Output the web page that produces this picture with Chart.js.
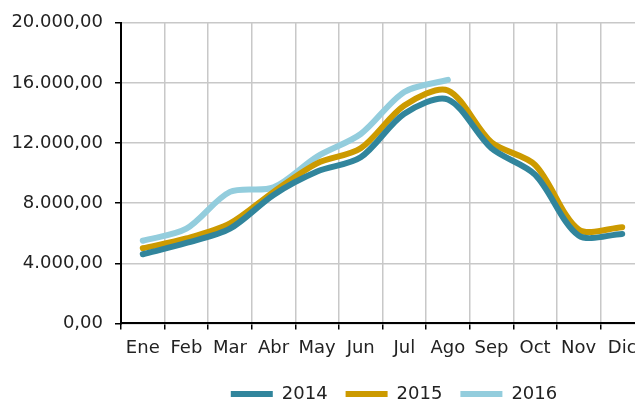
<!DOCTYPE html>
<html>
<head>
<meta charset="utf-8">
<script src="https://cdn.jsdelivr.net/npm/chart.js@4/dist/chart.umd.min.js"></script>
<style>
  html, body { margin: 0; padding: 0; background: #fff; overflow: hidden; }
  #wrap { position: absolute; left: 0; top: 0; width: 652px; height: 413px; }
</style>
</head>
<body>
<div id="wrap"><canvas id="myChart"></canvas></div>
<script>
const months = ['Ene', 'Feb', 'Mar', 'Abr', 'May', 'Jun', 'Jul', 'Ago', 'Sep', 'Oct', 'Nov', 'Dic']
const years = ['2014', '2015', '2016']
const values2014 = [4600, 5350, 6300, 8550, 10100, 11050, 13950, 14900, 11650, 9900, 5850, 5950]
const values2015 = [5000, 5650, 6650, 8750, 10650, 11650, 14500, 15500, 12050, 10550, 6250, 6400]
const values2016 = [5500, 6300, 8750, 9050, 11100, 12600, 15400, 16200]
const yTicks = [0, 4000, 8000, 12000, 16000, 20000]
const yTickLabels = ['0,00', '4.000,00', '8.000,00', '12.000,00', '16.000,00', '20.000,00']

const colors = ['#31859c', '#cc9a00', '#93cddd']
const font = { family: 'DejaVu Sans', size: 18 }

// legend is not centred on the canvas in the original, push it right
const legendShift = {
  id: 'legendShift',
  afterLayout(chart) {
    chart.legend.left += 72
    chart.legend.right += 72
  }
}

function makeSet(label, data, i) {
  return {
    label: label,
    data: data,
    borderColor: colors[i],
    backgroundColor: colors[i],
    borderWidth: 6,
    borderCapStyle: 'round',
    borderJoinStyle: 'round',
    pointRadius: 0,
    pointHoverRadius: 0,
    tension: 0.3,
    fill: false,
    pointStyle: 'line'
  }
}

let ctx = document.getElementById('myChart').getContext('2d')
let chart = new Chart(ctx, {
  type: 'line',
  data: {
    labels: months,
    datasets: [
      makeSet(years[0], values2014, 0),
      makeSet(years[1], values2015, 1),
      makeSet(years[2], values2016, 2)
    ]
  },
  options: {
    responsive: true,
    maintainAspectRatio: false,
    animation: false,
    layout: { padding: { top: 21, right: 8, left: 0, bottom: 0 } },
    plugins: {
      tooltip: { enabled: false },
      legend: {
        position: 'bottom',
        labels: {
          usePointStyle: true,
          pointStyleWidth: 42,
          padding: 18,
          color: '#222',
          font: font
        }
      }
    },
    scales: {
      x: {
        offset: true,
        grid: { offset: true, color: '#c8c8c8', lineWidth: 1.5, tickColor: '#000', tickLength: 6 },
        border: { color: '#000', width: 2 },
        ticks: { color: '#222', font: font, padding: 8, maxRotation: 0, autoSkip: false }
      },
      y: {
        min: 0,
        max: 20000,
        afterFit: s => { s.width = 121 },
        afterBuildTicks: s => { s.ticks = yTicks.map(v => ({ value: v })) },
        grid: { color: '#c8c8c8', lineWidth: 1.5, tickColor: '#000', tickLength: 6 },
        border: { color: '#000', width: 2 },
        ticks: {
          color: '#222',
          font: font,
          padding: 12,
          callback: (v) => yTickLabels[yTicks.indexOf(v)]
        }
      }
    }
  },
  plugins: [legendShift]
})
</script>
</body>
</html>
